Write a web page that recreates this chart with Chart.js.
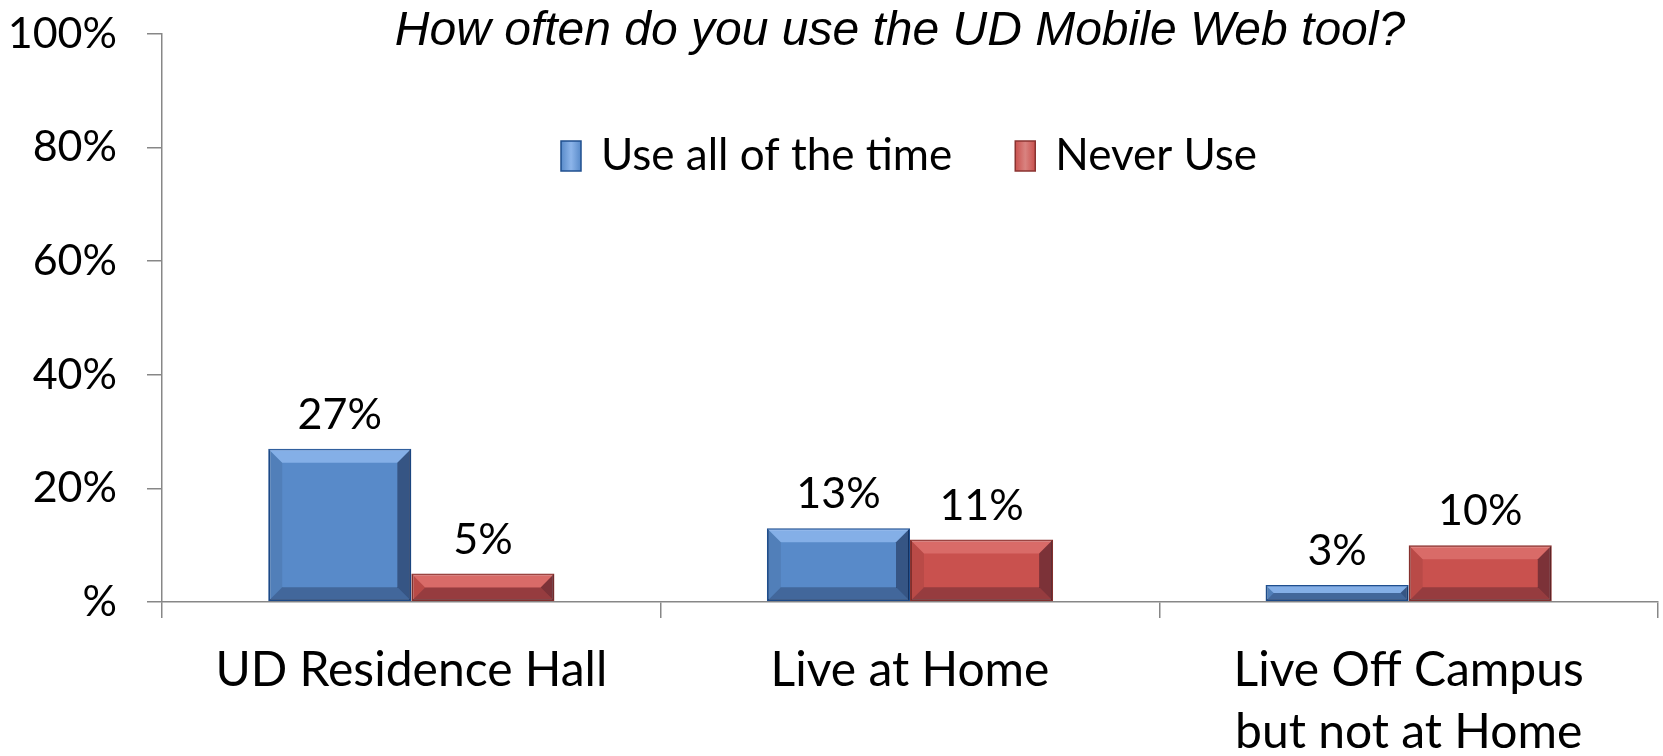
<!DOCTYPE html>
<html><head><meta charset="utf-8">
<script src="https://cdn.jsdelivr.net/npm/chart.js@4.4.0/dist/chart.umd.min.js"></script>
<style>html,body{margin:0;padding:0;background:#fff;}canvas{display:block;}</style>
</head><body>
<canvas id="c" width="1663" height="756"></canvas>
<script>
const chartTitle = 'How often do you use the UD Mobile Web tool?';
const categories = [['UD Residence Hall'], ['Live at Home'], ['Live Off Campus', 'but not at Home']];
const seriesNames = ['Use all of the time', 'Never Use'];
const useAllOfTheTime = [27, 13, 3];
const neverUse = [5, 11, 10];
const yTickValues = [0, 20, 40, 60, 80, 100];
const yTickLabels = ['%', '20%', '40%', '60%', '80%', '100%'];

const fills = ['#588AC9', '#C9514E'];
const borders = ['#1F4F8F', '#8A3330'];

Chart.defaults.font.family = 'Lato';
Chart.defaults.color = '#000';

const titlePlugin = {
  id: 'titleText',
  afterDraw(chart) {
    const ctx = chart.ctx;
    ctx.save();
    ctx.font = 'italic 48px "Liberation Sans"';
    ctx.fillStyle = '#000';
    ctx.textAlign = 'center';
    ctx.textBaseline = 'alphabetic';
    ctx.fillText(chartTitle, 900, 45);
    ctx.restore();
  }
};

const bevelPlugin = {
  id: 'bevel',
  afterDatasetsDraw(chart) {
    const ctx = chart.ctx;
    chart.data.datasets.forEach((ds, di) => {
      chart.getDatasetMeta(di).data.forEach(bar => {
        const p = bar.getProps(['x', 'y', 'base', 'width'], true);
        const l = p.x - p.width / 2 + 1, r = p.x + p.width / 2 - 1;
        const t = Math.min(p.y, p.base) + 1, b = Math.max(p.y, p.base) - 1;
        const h = b - t, w = r - l;
        const k = Math.min(13, h / 2, w / 2);
        const poly = (pts, col) => {
          ctx.beginPath();
          ctx.moveTo(pts[0][0], pts[0][1]);
          for (let i = 1; i < pts.length; i++) ctx.lineTo(pts[i][0], pts[i][1]);
          ctx.closePath();
          ctx.fillStyle = col;
          ctx.fill();
        };
        ctx.save();
        const light = di === 0 ? 'rgba(170,205,255,0.55)' : 'rgba(255,170,165,0.3)';
        poly([[l, t], [r, t], [r - k, t + k], [l + k, t + k]], light);
        poly([[l, t], [l + k, t + k], [l + k, b - k], [l, b]], 'rgba(0,0,0,0.08)');
        poly([[r, t], [r, b], [r - k, b - k], [r - k, t + k]], 'rgba(0,0,20,0.38)');
        poly([[l, b], [l + k, b - k], [r - k, b - k], [r, b]], 'rgba(0,0,20,0.25)');
        ctx.restore();
      });
    });
  }
};

const valueLabelPlugin = {
  id: 'valueLabels',
  afterDatasetsDraw(chart) {
    const ctx = chart.ctx;
    ctx.save();
    ctx.font = '43px Lato';
    ctx.fillStyle = '#000';
    ctx.textAlign = 'center';
    ctx.textBaseline = 'alphabetic';
    chart.data.datasets.forEach((ds, di) => {
      chart.getDatasetMeta(di).data.forEach((bar, i) => {
        ctx.fillText(ds.data[i] + '%', bar.x, bar.y - 20);
      });
    });
    ctx.restore();
  }
};

const legendPlugin = {
  id: 'customLegend',
  afterDraw(chart) {
    const ctx = chart.ctx;
    ctx.save();
    ctx.font = '44px Lato';
    ctx.textBaseline = 'middle';
    ctx.textAlign = 'left';
    let x = 561;
    const cy = 156;
    chart.data.datasets.forEach((ds, di) => {
      const g = ctx.createLinearGradient(x, 0, x + 20, 0);
      g.addColorStop(0, ds.backgroundColor);
      g.addColorStop(0.5, di === 0 ? '#8DB5EA' : '#D98380');
      g.addColorStop(1, ds.backgroundColor);
      ctx.fillStyle = g;
      ctx.fillRect(x, cy - 15, 20, 30);
      ctx.strokeStyle = ds.borderColor;
      ctx.lineWidth = 1.5;
      ctx.strokeRect(x, cy - 15, 20, 30);
      ctx.fillStyle = '#000';
      ctx.fillText(ds.label, x + 40, cy);
      x += 40 + ctx.measureText(ds.label).width + 63;
    });
    ctx.restore();
  }
};

new Chart(document.getElementById('c'), {
  type: 'bar',
  data: {
    labels: categories,
    datasets: [
      { label: seriesNames[0], data: useAllOfTheTime, backgroundColor: fills[0], borderColor: borders[0], borderWidth: 2, borderSkipped: false },
      { label: seriesNames[1], data: neverUse, backgroundColor: fills[1], borderColor: borders[1], borderWidth: 2, borderSkipped: false }
    ]
  },
  options: {
    responsive: false,
    animation: false,
    layout: { padding: { top: 34, right: 5, left: 0, bottom: 0 } },
    datasets: { bar: { categoryPercentage: 0.574, barPercentage: 1.0 } },
    plugins: {
      legend: { display: false },
      title: { display: false },
      tooltip: { enabled: false }
    },
    scales: {
      x: {
        grid: { display: true, drawOnChartArea: false, drawTicks: true, tickLength: 16, color: '#878787', lineWidth: 1.5, offset: true },
        border: { display: true, color: '#878787', width: 1.5 },
        ticks: { font: { size: 48, lineHeight: 1.3 }, color: '#000', padding: 21, maxRotation: 0, autoSkip: false },
        afterFit(s) { s.height = 154; }
      },
      y: {
        min: 0, max: 100,
        afterBuildTicks(s) { s.ticks = yTickValues.map(v => ({ value: v })); },
        grid: { display: true, drawOnChartArea: false, drawTicks: true, tickLength: 15, color: '#878787', lineWidth: 1.5 },
        border: { display: true, color: '#878787', width: 1.5 },
        ticks: {
          font: { size: 43 }, color: '#000', padding: 30,
          callback(v) { return yTickLabels[yTickValues.indexOf(v)]; }
        },
        afterFit(s) { s.width = 162; s.paddingTop = 0; s.paddingBottom = 0; }
      }
    }
  },
  plugins: [bevelPlugin, valueLabelPlugin, legendPlugin, titlePlugin]
});
</script>
</body></html>
